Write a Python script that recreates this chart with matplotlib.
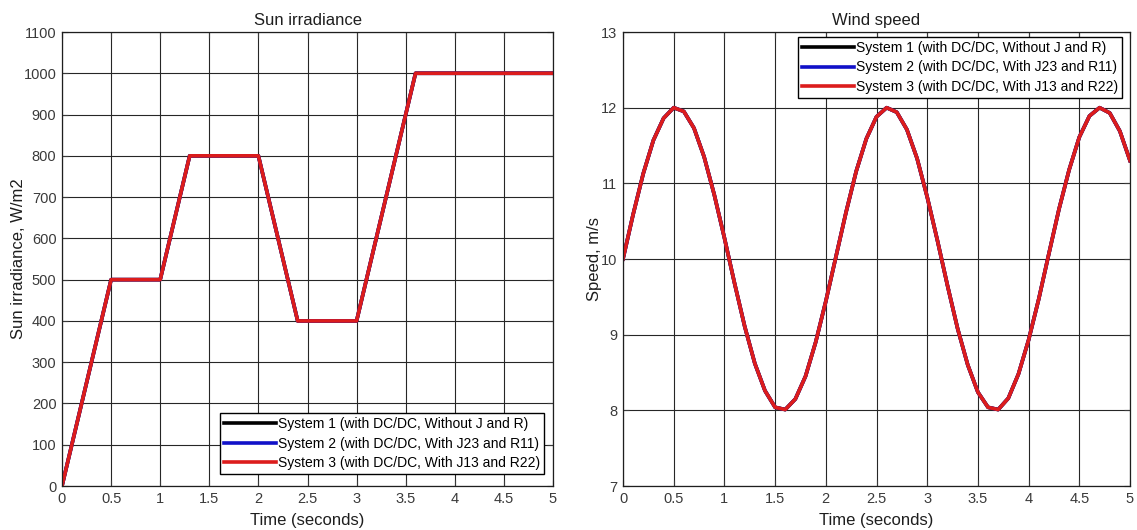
import matplotlib
matplotlib.use("Agg")
import matplotlib.pyplot as plt

plt.rcParams['font.family'] = ['Liberation Sans', 'DejaVu Sans']

# Sun irradiance breakpoints (time s, W/m2)
sun_t = [0, 0.5, 1.0, 1.3, 2.0, 2.4, 3.0, 3.6, 5.0]
sun_g = [0, 500, 500, 800, 800, 400, 400, 1000, 1000]

# Wind speed samples (every 0.1 s)
wind_t = [i / 10 for i in range(51)]
wind_v = [10.00, 10.59, 11.13, 11.57, 11.86, 12.00, 11.95, 11.73, 11.35, 10.85,
          10.28, 9.68, 9.11, 8.62, 8.26, 8.04, 8.01, 8.15, 8.45, 8.90,
          9.44, 10.03, 10.62, 11.16, 11.59, 11.88, 12.00, 11.94, 11.71, 11.33,
          10.82, 10.25, 9.65, 9.08, 8.60, 8.24, 8.04, 8.01, 8.16, 8.48,
          8.93, 9.47, 10.07, 10.66, 11.18, 11.61, 11.89, 12.00, 11.93, 11.69,
          11.30]

labels = ["System 1 (with DC/DC, Without J and R)",
          "System 2 (with DC/DC, With J23 and R11)",
          "System 3 (with DC/DC, With J13 and R22)"]
colors = ["black", "#1010c8", "#dc1c1c"]

xticks = [0, 0.5, 1, 1.5, 2, 2.5, 3, 3.5, 4, 4.5, 5]
xticklabels = ["0", "0.5", "1", "1.5", "2", "2.5", "3", "3.5", "4", "4.5", "5"]

W, H = 1137, 530
fig = plt.figure(figsize=(W / 100, H / 100), dpi=100)
top, bottom = 32, 486
ax1 = fig.add_axes([62 / W, 1 - bottom / H, (553 - 62) / W, (bottom - top) / H])
ax2 = fig.add_axes([623 / W, 1 - bottom / H, (1130 - 623) / W, (bottom - top) / H])

tick_color = "#3a3a3a"
text_color = "#1e1e1e"

def style(ax):
    ax.set_xlim(0, 5)
    ax.set_xticks(xticks)
    ax.set_xticklabels(xticklabels)
    ax.grid(True, color="#262626", linewidth=0.8)
    ax.set_axisbelow(True)
    ax.tick_params(direction="in", length=4, labelsize=10.5, colors=tick_color,
                   top=True, right=True, pad=4)
    for s in ax.spines.values():
        s.set_color("#1e1e1e")
        s.set_linewidth(0.9)
    ax.set_xlabel("Time (seconds)", fontsize=12, color=text_color, labelpad=5)

def add_legend(ax, loc, bbox):
    leg = ax.legend(loc=loc, bbox_to_anchor=bbox, bbox_transform=fig.transFigure,
                    fontsize=10, fancybox=False, framealpha=1,
                    edgecolor="black", handlelength=3.7, handletextpad=0.15,
                    borderpad=0.3, labelspacing=0.38, borderaxespad=0)
    leg.get_frame().set_linewidth(1.0)
    return leg

for c, lab in zip(colors, labels):
    ax1.plot(sun_t, sun_g, color=c, linewidth=2.6, label=lab)
ax1.set_ylim(0, 1100)
ax1.set_yticks(range(0, 1101, 100))
style(ax1)
ax1.set_title("Sun irradiance", fontsize=12, color=text_color, pad=5)
ax1.set_ylabel("Sun irradiance, W/m2", fontsize=12, color=text_color, labelpad=-2)
add_legend(ax1, "lower right", (544 / W, 1 - 474 / H))

for c, lab in zip(colors, labels):
    ax2.plot(wind_t, wind_v, color=c, linewidth=2.6, label=lab)
ax2.set_ylim(7, 13)
ax2.set_yticks(range(7, 14))
style(ax2)
ax2.set_title("Wind speed", fontsize=12, color=text_color, pad=5)
ax2.set_ylabel("Speed, m/s", fontsize=12, color=text_color, labelpad=-1)
add_legend(ax2, "upper right", (1122 / W, 1 - 37 / H))

fig.savefig("out.png", dpi=100)
